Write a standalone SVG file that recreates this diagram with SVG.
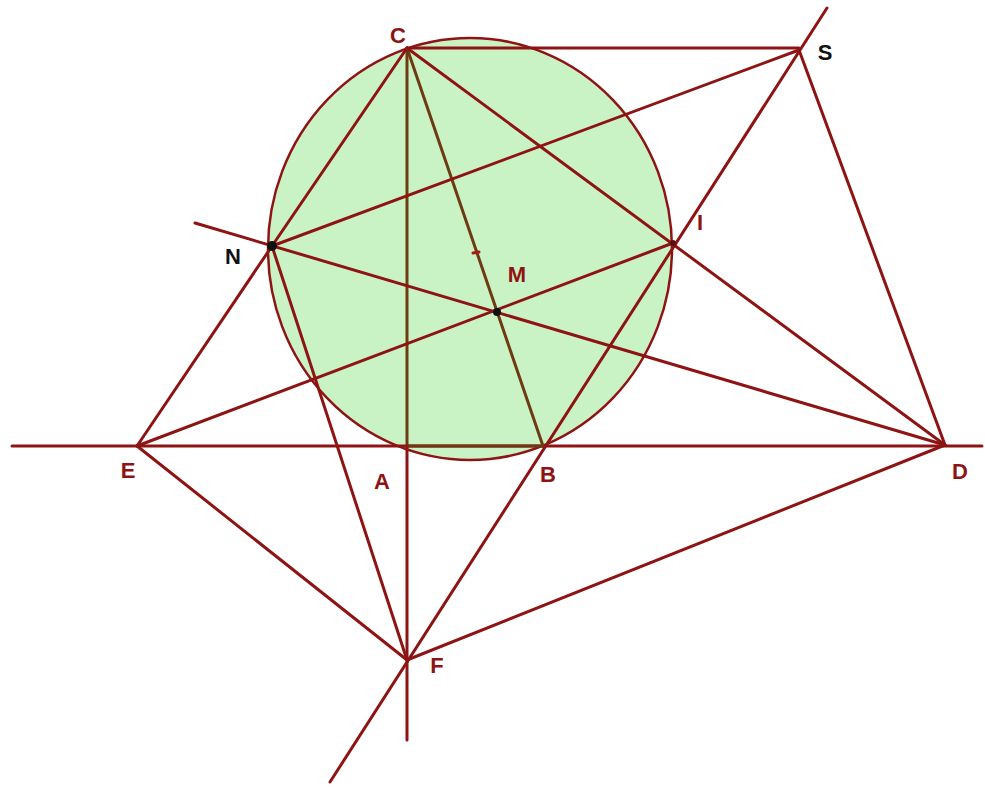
<svg xmlns="http://www.w3.org/2000/svg" width="985" height="787" viewBox="0 0 985 787">
<style>
.l{stroke:#8e1414;stroke-width:3;fill:none;stroke-linecap:round}
.b{stroke:#6e3a12;stroke-width:3;fill:none;stroke-linecap:round}
.t{font-family:"Liberation Sans",Arial,sans-serif;font-weight:bold;font-size:22px;text-anchor:middle;dominant-baseline:central;fill:#8e1414}
.k{fill:#111}
</style>
<rect width="985" height="787" fill="#ffffff"/>
<g id="circle">
<ellipse cx="470" cy="249" rx="202" ry="211" fill="#c9f3c5" stroke="#8e1414" stroke-width="2.5"/>
</g>
<g id="connectors">
<line class="l" x1="12" y1="446" x2="982" y2="446"/>
<line class="b" x1="407" y1="446" x2="543" y2="446"/>
<line class="l" x1="407" y1="48" x2="799" y2="48"/>
<line class="b" x1="407" y1="48" x2="407" y2="446"/>
<line class="l" x1="407" y1="446" x2="407" y2="740"/>
<line class="b" x1="407" y1="48" x2="543" y2="446"/>
<line class="l" x1="407" y1="48" x2="272" y2="246"/>
<line class="l" x1="407" y1="48" x2="945" y2="445"/>
<line class="l" x1="272" y1="246" x2="799" y2="50"/>
<line class="l" x1="195" y1="223" x2="945" y2="445"/>
<line class="l" x1="272" y1="246" x2="137" y2="446"/>
<line class="l" x1="272" y1="246" x2="407" y2="660"/>
<line class="l" x1="137" y1="446" x2="673" y2="243"/>
<line class="l" x1="137" y1="446" x2="407" y2="660"/>
<line class="l" x1="799" y1="50" x2="945" y2="445"/>
<line class="l" x1="827" y1="8" x2="330" y2="782"/>
<line class="l" x1="407" y1="660" x2="945" y2="445"/>
<line x1="473" y1="253" x2="479" y2="252" stroke="#b01818" stroke-width="3" stroke-linecap="round"/>
</g>
<g id="N"><circle cx="272" cy="246" r="5" fill="#111"/><text class="t k" x="233" y="256">N</text></g>
<g id="M"><circle cx="497" cy="312" r="4" fill="#111"/><text class="t" x="517" y="274">M</text></g>
<g id="I"><circle cx="673" cy="243" r="3" fill="#5a1010"/><text class="t" x="700" y="222" fill="#c01010">I</text></g>
<g id="C"><text class="t" x="398" y="35">C</text></g>
<g id="S"><text class="t k" x="825" y="52">S</text></g>
<g id="E"><text class="t" x="128" y="470">E</text></g>
<g id="A"><text class="t" x="382" y="481">A</text></g>
<g id="B"><text class="t" x="548" y="474">B</text></g>
<g id="D"><text class="t" x="960" y="471">D</text></g>
<g id="F"><text class="t" x="437" y="665">F</text></g>
</svg>
